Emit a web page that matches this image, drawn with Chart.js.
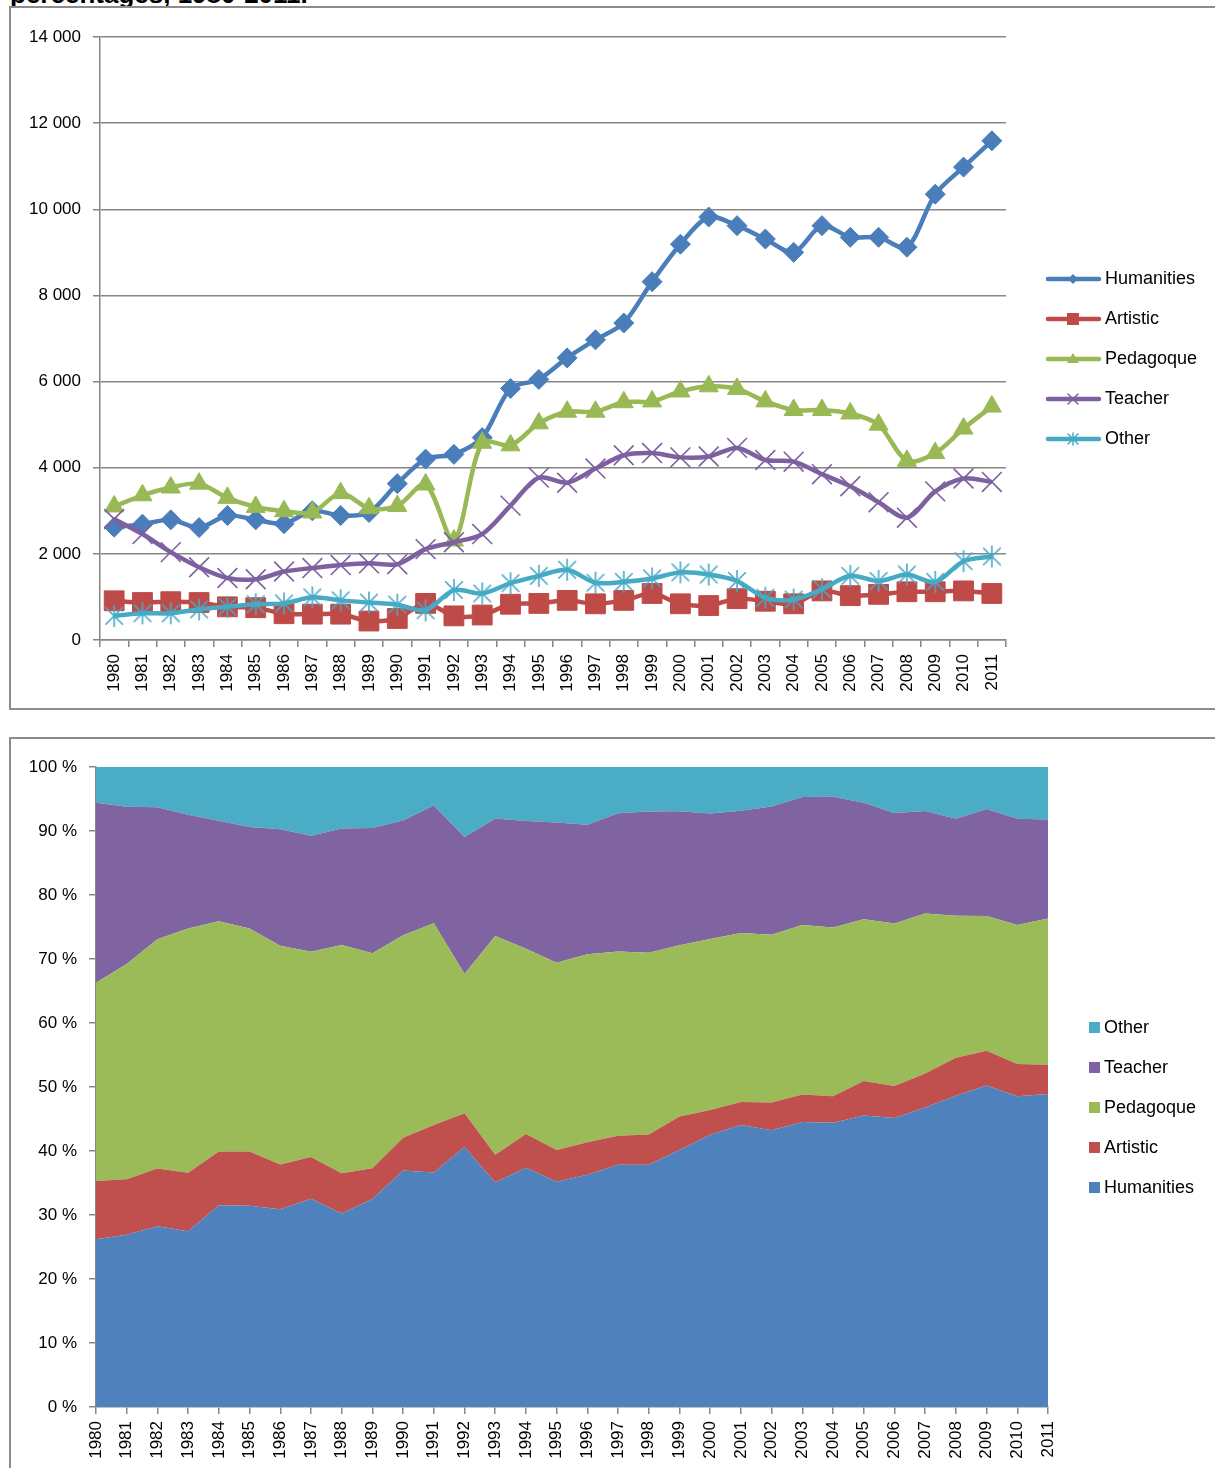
<!DOCTYPE html>
<html>
<head>
<meta charset="utf-8">
<script src="https://cdn.jsdelivr.net/npm/chart.js@4/dist/chart.umd.min.js"></script>
<style>
  html, body { margin: 0; padding: 0; background: #fff; }
  body { width: 1215px; height: 1468px; position: relative; overflow: hidden;
         font-family: "Liberation Sans", Arial, sans-serif; }
  .title { position: absolute; left: 10px; top: -21px; font-weight: bold; font-size: 26px;
           font-family: "Liberation Sans", Arial, sans-serif; color: #000; white-space: nowrap; }
  .box { position: absolute; border: 2px solid #8c8c8c; background: #fff; }
  .box canvas { position: absolute; left: 0; top: 0; }
</style>
</head>
<body>
<div class="title">percentages, 1980-2011.</div>
<div class="box" id="box1" style="left:9px; top:6px; width:1230px; height:700px;">
  <canvas id="lineChart" width="1205" height="700"></canvas>
</div>
<div class="box" id="box2" style="left:9px; top:737px; width:1230px; height:760px;">
  <canvas id="areaChart" width="1205" height="729"></canvas>
</div>
<script>
const years = ['1980', '1981', '1982', '1983', '1984', '1985', '1986', '1987', '1988', '1989',
    '1990', '1991', '1992', '1993', '1994', '1995', '1996', '1997', '1998', '1999',
    '2000', '2001', '2002', '2003', '2004', '2005', '2006', '2007', '2008', '2009',
    '2010', '2011'];

const humanities = [2620, 2690, 2790, 2610, 2890, 2790, 2700, 3000, 2890, 2960,
    3630, 4200, 4310, 4700, 5840, 6050, 6550, 6970, 7360, 8320,
    9190, 9820, 9620, 9310, 9000, 9620, 9350, 9350, 9120, 10350,
    10980, 11590];
const artistic = [910, 870, 890, 870, 770, 750, 610, 600, 600, 440,
    500, 850, 560, 580, 830, 850, 920, 840, 920, 1080,
    840, 800, 960, 900, 840, 1140, 1030, 1060, 1120, 1120,
    1140, 1080];
const pedagoque = [3100, 3360, 3540, 3630, 3300, 3090, 2990, 2960, 3410, 3060,
    3110, 3610, 2310, 4580, 4520, 5030, 5300, 5300, 5520, 5540,
    5770, 5890, 5830, 5540, 5340, 5340, 5260, 5000, 4160, 4340,
    4910, 5420];
const teacher = [2810, 2460, 2040, 1690, 1440, 1410, 1590, 1670, 1740, 1780,
    1760, 2110, 2270, 2460, 3120, 3770, 3650, 3980, 4290, 4340,
    4240, 4260, 4460, 4180, 4140, 3850, 3570, 3200, 2840, 3450,
    3750, 3670];
const other = [560, 620, 620, 710, 770, 830, 850, 990, 920, 870,
    820, 690, 1160, 1080, 1320, 1490, 1630, 1330, 1350, 1430,
    1570, 1520, 1370, 980, 940, 1180, 1490, 1370, 1520, 1350,
    1830, 1940];

const countTicks = [0, 2000, 4000, 6000, 8000, 10000, 12000, 14000];
const percentTicks = [0, 10, 20, 30, 40, 50, 60, 70, 80, 90, 100];

const seriesNames = ['Humanities', 'Artistic', 'Pedagoque', 'Teacher', 'Other'];
const seriesValues = [humanities, artistic, pedagoque, teacher, other];

const FONT = '"Liberation Sans", Arial, sans-serif';
const AXIS_GREY = '#868686';
const lineColors = ['#4A7EBB', '#BE4B48', '#98B954', '#7D60A0', '#46AAC5'];
const areaColors = ['#4F81BD', '#C0504D', '#9BBB59', '#8064A2', '#4BACC6'];

function spaced(v) {
    return String(v).replace(/\B(?=(\d{3})+(?!\d))/g, ' ');
}

// Excel-style asterisk marker: an X plus a vertical bar
function makeStar(size, color) {
    const c = document.createElement('canvas');
    c.width = size; c.height = size;
    const g = c.getContext('2d');
    const m = size / 2, r = size / 2 - 1;
    g.strokeStyle = color;
    g.lineWidth = 1.6;
    g.beginPath();
    g.moveTo(m, m - r); g.lineTo(m, m + r);
    g.moveTo(m - r * 0.8, m - r * 0.8); g.lineTo(m + r * 0.8, m + r * 0.8);
    g.moveTo(m - r * 0.8, m + r * 0.8); g.lineTo(m + r * 0.8, m - r * 0.8);
    g.stroke();
    return c;
}

const markers = [
    { style: 'rectRot', radius: 10, width: 1 },
    { style: 'rect', radius: 14, width: 1 },
    { style: 'triangle', radius: 11, width: 1 },
    { style: 'crossRot', radius: 14, width: 1.6 },
    { style: makeStar(24, lineColors[4]), radius: 12, width: 1 },
];

// small legend glyphs, drawn by hand so they match the chart markers
function legendMarker(ctx, i, x, y) {
    const c = lineColors[i];
    ctx.save();
    ctx.fillStyle = c;
    ctx.strokeStyle = c;
    ctx.lineWidth = 1.5;
    ctx.beginPath();
    if (i === 0) {
        ctx.moveTo(x - 5, y); ctx.lineTo(x, y - 5); ctx.lineTo(x + 5, y); ctx.lineTo(x, y + 5);
        ctx.closePath(); ctx.fill();
    } else if (i === 1) {
        ctx.rect(x - 6, y - 6, 12, 12); ctx.fill();
    } else if (i === 2) {
        ctx.moveTo(x, y - 6); ctx.lineTo(x + 6, y + 4); ctx.lineTo(x - 6, y + 4);
        ctx.closePath(); ctx.fill();
    } else if (i === 3) {
        ctx.moveTo(x - 5, y - 5); ctx.lineTo(x + 5, y + 5);
        ctx.moveTo(x - 5, y + 5); ctx.lineTo(x + 5, y - 5); ctx.stroke();
    } else {
        ctx.moveTo(x, y - 6); ctx.lineTo(x, y + 6);
        ctx.moveTo(x - 5, y - 5); ctx.lineTo(x + 5, y + 5);
        ctx.moveTo(x - 5, y + 5); ctx.lineTo(x + 5, y - 5); ctx.stroke();
    }
    ctx.restore();
}

const lineLegend = {
    id: 'lineLegend',
    afterDraw(chart) {
        const ctx = chart.ctx;
        ctx.save();
        ctx.font = '18px ' + FONT;
        ctx.textBaseline = 'middle';
        seriesNames.forEach((name, i) => {
            const y = 271 + i * 40;
            ctx.strokeStyle = lineColors[i];
            ctx.lineWidth = 4.5;
            ctx.lineCap = 'round';
            ctx.beginPath();
            ctx.moveTo(1037, y);
            ctx.lineTo(1088, y);
            ctx.stroke();
            legendMarker(ctx, i, 1062, y);
            ctx.fillStyle = '#000';
            ctx.fillText(name, 1094, y);
        });
        ctx.restore();
    },
};

const areaLegend = {
    id: 'areaLegend',
    afterDraw(chart) {
        const ctx = chart.ctx;
        ctx.save();
        ctx.font = '18px ' + FONT;
        ctx.textBaseline = 'middle';
        for (let k = 0; k < seriesNames.length; k++) {
            const i = seriesNames.length - 1 - k;
            const y = 289 + k * 40;
            ctx.fillStyle = areaColors[i];
            ctx.fillRect(1078, y - 6, 11, 11);
            ctx.fillStyle = '#000';
            ctx.fillText(seriesNames[i], 1093, y);
        }
        ctx.restore();
    },
};

Chart.defaults.font.family = FONT;
Chart.defaults.color = '#000';
Chart.defaults.animation = false;

new Chart(document.getElementById('lineChart'), {
    type: 'line',
    data: {
        labels: years,
        datasets: seriesNames.map((name, i) => ({
            label: name,
            data: seriesValues[i],
            borderColor: lineColors[i],
            backgroundColor: lineColors[i],
            borderWidth: 4.5,
            tension: 0.3,
            pointStyle: markers[i].style,
            pointRadius: markers[i].radius,
            pointBorderWidth: markers[i].width,
            pointBackgroundColor: lineColors[i],
            pointBorderColor: lineColors[i],
            order: seriesNames.length - 1 - i,
            clip: false,
        })),
    },
    options: {
        responsive: false,
        layout: { padding: { left: 0, top: 29, right: 210, bottom: 0 } },
        plugins: { legend: { display: false }, tooltip: { enabled: false } },
        scales: {
            x: {
                offset: true,
                grid: { offset: true, drawOnChartArea: false, drawTicks: true, tickLength: 7,
                        color: AXIS_GREY, lineWidth: 1.5 },
                border: { color: AXIS_GREY, width: 1.5 },
                ticks: { font: { size: 17 }, minRotation: 90, maxRotation: 90, padding: 7,
                         autoSkip: false },
                afterFit: (s) => { s.height = 68; },
            },
            y: {
                min: countTicks[0],
                max: countTicks[countTicks.length - 1],
                afterBuildTicks: (s) => { s.ticks = countTicks.map((v) => ({ value: v })); },
                grid: { color: AXIS_GREY, lineWidth: 1.5, tickLength: 7 },
                border: { color: AXIS_GREY, width: 1.5 },
                ticks: { font: { size: 17 }, padding: 12, callback: (v) => spaced(v) },
                afterFit: (s) => { s.width = 89; },
            },
        },
    },
    plugins: [lineLegend],
});

// share of each field in the yearly total, for the 100 % stacked chart
const totals = years.map((_, j) => seriesValues.reduce((sum, arr) => sum + arr[j], 0));
const shares = seriesValues.map((arr) => arr.map((v, j) => v / totals[j] * 100));

new Chart(document.getElementById('areaChart'), {
    type: 'line',
    data: {
        labels: years,
        datasets: seriesNames.map((name, i) => ({
            label: name,
            data: shares[i],
            borderColor: areaColors[i],
            backgroundColor: areaColors[i],
            borderWidth: 0,
            pointRadius: 0,
            tension: 0,
            fill: i === 0 ? 'origin' : '-1',
        })),
    },
    options: {
        responsive: false,
        layout: { padding: { left: 0, top: 28, right: 168, bottom: 0 } },
        plugins: { legend: { display: false }, tooltip: { enabled: false },
                   filler: { propagate: false } },
        scales: {
            x: {
                offset: false,
                grid: { drawOnChartArea: false, drawTicks: true, tickLength: 7,
                        color: AXIS_GREY, lineWidth: 1.5 },
                border: { color: AXIS_GREY, width: 1.5 },
                ticks: { font: { size: 17 }, minRotation: 90, maxRotation: 90, padding: 7,
                         autoSkip: false },
                afterFit: (s) => { s.height = 61; },
            },
            y: {
                stacked: true,
                min: 0,
                max: 100,
                afterBuildTicks: (s) => { s.ticks = percentTicks.map((v) => ({ value: v })); },
                grid: { drawOnChartArea: false, color: AXIS_GREY, lineWidth: 1.5, tickLength: 7 },
                border: { color: AXIS_GREY, width: 1.5 },
                ticks: { font: { size: 17 }, padding: 12, callback: (v) => v + ' %' },
                afterFit: (s) => { s.width = 85; },
            },
        },
    },
    plugins: [areaLegend],
});
</script>
</body>
</html>
